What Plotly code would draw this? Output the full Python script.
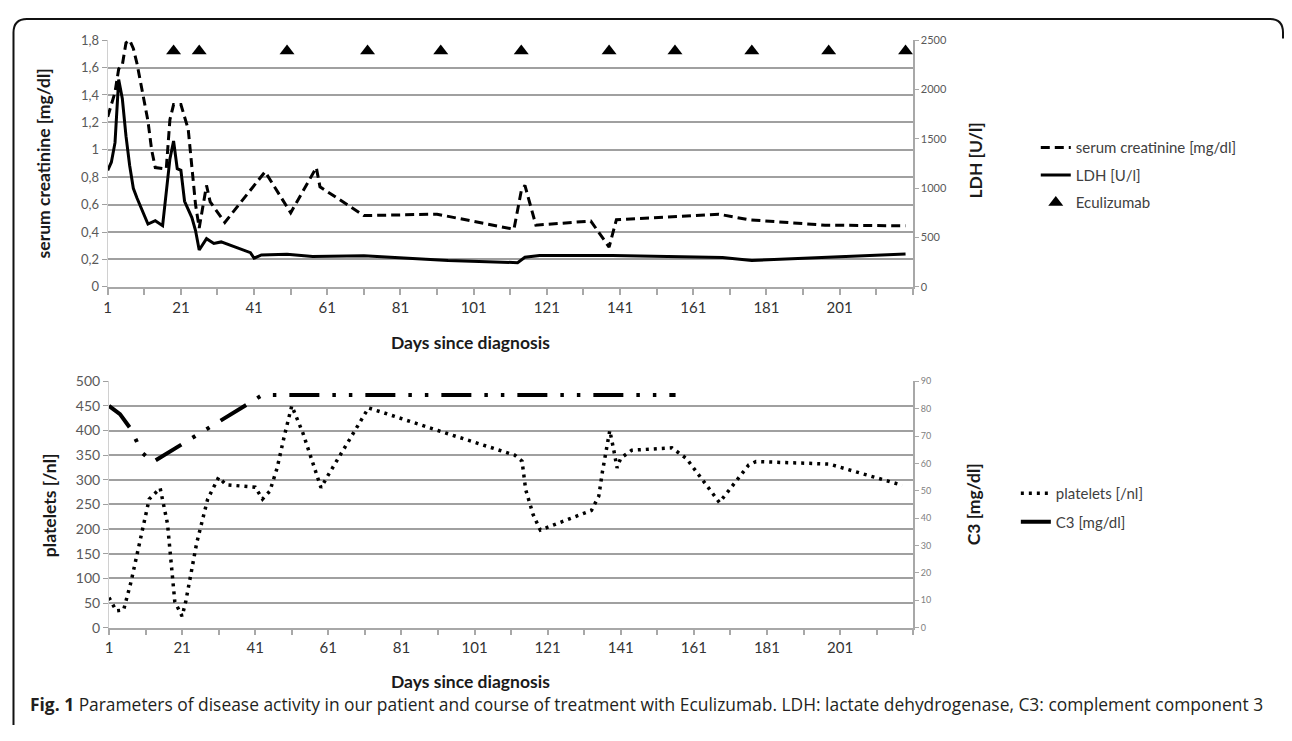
import plotly.graph_objects as go

# Page body keeps its default 8px margin, so the figure is 16px smaller than the window
PAGE_W, PAGE_H = 1292, 741
OFF = 8
W, H = PAGE_W - 2 * OFF, PAGE_H - 2 * OFF

# ---------------- data ----------------
cre_days = [1, 2, 3, 4, 5, 6, 7, 8, 9, 10, 11, 12, 13, 14, 17, 18, 19, 21, 23, 25, 26,
            28, 29, 33, 44, 51, 58, 59, 71, 91, 112, 114, 115, 118, 133, 138, 140,
            168, 176, 197, 219]
cre_vals = [1.24, 1.34, 1.42, 1.59, 1.62, 1.78, 1.80, 1.74, 1.63, 1.49, 1.34, 1.21, 1.00,
            0.87, 0.86, 1.22, 1.33, 1.33, 1.15, 0.60, 0.43, 0.74, 0.62, 0.47, 0.84, 0.54,
            0.87, 0.73, 0.52, 0.53, 0.42, 0.70, 0.74, 0.45, 0.48, 0.29, 0.49, 0.53, 0.49,
            0.45, 0.445]

ldh_days = [1, 2, 3, 4, 5, 6, 7, 8, 9, 12, 14, 16, 18, 19, 20, 21, 22, 24, 25, 26, 28,
            30, 32, 40, 41, 43, 50, 57, 71, 94, 113, 115, 119, 139, 169, 177, 219]
ldh_vals = [1181, 1263, 1461, 2100, 1906, 1527, 1230, 999, 900, 636, 670, 620, 1296,
            1478, 1197, 1181, 867, 702, 570, 373, 488, 439, 455, 346, 290, 323, 330, 307,
            315, 267, 245, 300, 317, 317, 297, 267, 333]

ecu_days = [19, 26, 50, 72, 92, 114, 138, 156, 177, 198, 219]
ecu_vals = [1.72] * len(ecu_days)

plt_days = [1, 3, 5, 7, 12, 15, 17, 19, 21, 22, 25, 28, 31, 33, 41, 43, 45, 47, 49, 51,
            54, 59, 61, 72, 91, 112, 114, 115, 117, 119, 133, 135, 136, 137, 138, 139,
            140, 141, 144, 155, 159, 168, 176, 178, 198, 218]
plt_vals = [61, 34, 36, 92, 261, 283, 211, 53, 23, 53, 172, 261, 305, 290, 285, 261, 277,
            324, 390, 450, 396, 284, 310, 446, 400, 350, 338, 280, 230, 198, 238, 267,
            317, 360, 400, 364, 324, 344, 360, 365, 343, 254, 330, 337, 332, 289]

c3_days = [1, 4, 7, 10, 13, 43, 156]
c3_vals = [81, 78, 72.5, 64, 60.5, 85, 85]

x_tick_vals = list(range(1, 222, 10))
x_tick_text = [str(v) if (v - 1) % 20 == 0 and v <= 201 else "" for v in x_tick_vals]
cre_ticks = [0, 0.2, 0.4, 0.6, 0.8, 1.0, 1.2, 1.4, 1.6, 1.8]
cre_tick_text = ["0", "0,2", "0,4", "0,6", "0,8", "1", "1,2", "1,4", "1,6", "1,8"]

# ---------------- figure ----------------
FONT = "Lato, 'Open Sans', sans-serif"
GRID = "#a0a0a0"
AX = "#a8a8a8"
TXT = "#404040"


def px_x(p):
    return (p - OFF) / W


def px_y(p):
    return 1 - (p - OFF) / H


fig = go.Figure()

fig.add_trace(go.Scatter(
    x=cre_days, y=cre_vals, name="serum creatinine [mg/dl]", mode="lines",
    line=dict(color="black", width=3, dash="9px,5px"),
    xaxis="x", yaxis="y", legend="legend", legendgroup="a"))
fig.add_trace(go.Scatter(
    x=ldh_days, y=ldh_vals, name="LDH [U/l]", mode="lines",
    line=dict(color="black", width=3),
    xaxis="x", yaxis="y2", legend="legend", legendgroup="b"))
fig.add_trace(go.Scatter(
    x=ecu_days, y=ecu_vals, name="Eculizumab", mode="markers",
    marker=dict(symbol="triangle-up", size=13, color="black"),
    xaxis="x", yaxis="y", legend="legend", legendgroup="c"))

fig.add_trace(go.Scatter(
    x=plt_days, y=plt_vals, name="platelets [/nl]", mode="lines",
    line=dict(color="black", width=3.5, dash="3px,5px"),
    xaxis="x2", yaxis="y3", legend="legend2", legendgroup="d"))
fig.add_trace(go.Scatter(
    x=c3_days, y=c3_vals, name="C3 [mg/dl]", mode="lines",
    line=dict(color="black", width=4, dash="30px,13px,3.5px,13px,3.5px,13px"),
    xaxis="x2", yaxis="y4", legend="legend2", legendgroup="e"))

xdom_top = [px_x(104), px_x(911.7)]
xdom_bot = [px_x(105.3), px_x(912)]
ydom_top = [px_y(284.3), px_y(31.7)]
ydom_bot = [px_y(633.3), px_y(381)]

common_x = dict(
    range=[1, 221], tickmode="array", tickvals=x_tick_vals, ticktext=x_tick_text,
    ticks="outside", ticklen=6, tickwidth=1.5, tickcolor=AX, showline=True,
    linecolor=AX, linewidth=1.5, showgrid=False, zeroline=False,
    tickfont=dict(family=FONT, size=15, color="#333333"))

left_y = dict(showgrid=True, gridcolor=GRID, gridwidth=1.6, zeroline=False,
              showline=True, linecolor="#d0d0d0", linewidth=1, ticks="outside",
              ticklen=5, tickcolor=GRID)
right_y = dict(showgrid=False, zeroline=False, showline=True, linecolor=AX, linewidth=1.5,
               ticks="outside", ticklen=4, tickcolor=AX, side="right")

fig.update_layout(
    width=W, height=H, margin=dict(l=0, r=0, t=0, b=0, pad=0),
    paper_bgcolor="white", plot_bgcolor="white",
    font=dict(family=FONT, color=TXT),
    xaxis=dict(domain=xdom_top, anchor="y", **common_x),
    yaxis=dict(domain=ydom_top, range=[0, 1.8], tickmode="array", tickvals=cre_ticks,
               ticktext=cre_tick_text, tickfont=dict(family=FONT, size=13, color="#595959"),
               anchor="x", **left_y),
    yaxis2=dict(range=[0, 2500], dtick=500, overlaying="y", anchor="x",
                tickfont=dict(family=FONT, size=11, color="#595959"), **right_y),
    xaxis2=dict(domain=xdom_bot, anchor="y3", **common_x),
    yaxis3=dict(domain=ydom_bot, range=[0, 500], dtick=50, anchor="x2",
                tickfont=dict(family=FONT, size=14, color="#595959"), **left_y),
    yaxis4=dict(range=[0, 90], dtick=10, overlaying="y3", anchor="x2",
                tickfont=dict(family=FONT, size=9, color="#808080"), **right_y),
    legend=dict(x=px_x(1035), y=px_y(125), xanchor="left", yanchor="top",
                font=dict(family=FONT, size=15, color=TXT), bgcolor="rgba(0,0,0,0)",
                traceorder="grouped", tracegroupgap=5, itemwidth=30),
    legend2=dict(x=px_x(1015), y=px_y(479), xanchor="left", yanchor="top",
                 font=dict(family=FONT, size=15, color=TXT), bgcolor="rgba(0,0,0,0)",
                 traceorder="grouped", tracegroupgap=6, itemwidth=30),
    showlegend=True,
)

ann_font_bold = dict(family=FONT, size=17.5, color="#1a1a1a")
annotations = [
    dict(text="<b>serum creatinine [mg/dl]</b>", x=px_x(40), y=px_y(158), textangle=-90,
         font=ann_font_bold),
    dict(text="<b>LDH [U/l]</b>", x=px_x(975), y=px_y(155), textangle=-90,
         font=ann_font_bold),
    dict(text="<b>Days since diagnosis</b>", x=px_x(468), y=px_y(341), font=ann_font_bold),
    dict(text="<b>platelets [/nl]</b>", x=px_x(45), y=px_y(508), textangle=-90,
         font=ann_font_bold),
    dict(text="<b>C3 [mg/dl]</b>", x=px_x(972), y=px_y(507), textangle=-90,
         font=ann_font_bold),
    dict(text="<b>Days since diagnosis</b>", x=px_x(468), y=px_y(688), font=ann_font_bold),
    dict(text="<b>Fig. 1</b> Parameters of disease activity in our patient and course of "
              "treatment with Eculizumab. LDH: lactate dehydrogenase, C3: complement component 3",
         x=px_x(24), y=px_y(711), xanchor="left",
         font=dict(family="'Open Sans', sans-serif", size=17.4, color="#231f20")),
]
for a in annotations:
    a.setdefault("xref", "paper")
    a.setdefault("yref", "paper")
    a.setdefault("showarrow", False)
    a.setdefault("xanchor", "center")
    a.setdefault("yanchor", "middle")
fig.update_layout(annotations=annotations)

# rounded frame (left side and top with rounded corners), pixel points -> paper fractions
pts = [(9.5, 733), (9.5, 24), (9.5, 10), (23, 10), (1270, 10), (1283, 10), (1283, 24), (1283, 30)]
P = [(px_x(a), px_y(b)) for a, b in pts]
path = (f"M {P[0][0]},{P[0][1]} L {P[1][0]},{P[1][1]} Q {P[2][0]},{P[2][1]} {P[3][0]},{P[3][1]} "
        f"L {P[4][0]},{P[4][1]} Q {P[5][0]},{P[5][1]} {P[6][0]},{P[6][1]} L {P[7][0]},{P[7][1]}")
fig.add_shape(type="path", path=path, xref="paper", yref="paper",
              line=dict(color="#111111", width=2), layer="above")

fig.write_html("out.html", config={"displayModeBar": False})
